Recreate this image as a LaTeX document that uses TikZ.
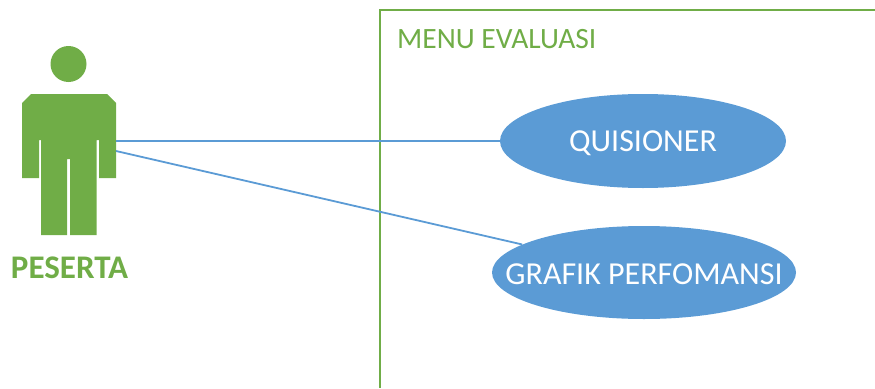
\documentclass[tikz,border=0pt]{standalone}
\usepackage{fontspec}
\setmainfont{Carlito}
\usetikzlibrary{shapes.geometric}
\definecolor{figgreen}{HTML}{70AD47}
\definecolor{caseblue}{HTML}{5B9BD5}
\tikzset{
  usecase/.style={ellipse, fill=caseblue, inner sep=0pt, label={[text=white, yshift=-2pt, font=\fontsize{32}{32}\selectfont]center:#1}},
  link/.style={draw=caseblue, line width=1.8pt}
}
\begin{document}
\begin{tikzpicture}[x=1pt,y=-1pt]
\useasboundingbox (0,0) rectangle (875,388);

\draw[figgreen, line width=1.8pt] (875,10) -- (380,10) -- (380,388);
\node[figgreen, font=\fontsize{29.5}{29.5}\selectfont, anchor=west, inner sep=0pt] (menu) at (397,39) {MENU EVALUASI};

\fill[figgreen] (68.5,64) circle (18);
\fill[figgreen] (31,94) -- (107,94) -- (116,103) -- (116,178) -- (99,178) -- (99,140) -- (96.5,140)
  -- (96.5,235) -- (70,235) -- (70,159) -- (67,159) -- (67,235) -- (41,235) -- (41,140) -- (39,140)
  -- (39,178) -- (22,178) -- (22,103) -- cycle;
\coordinate (peserta1) at (116,141);
\coordinate (peserta2) at (116,151);
\node[figgreen, font=\fontsize{33}{33}\selectfont\bfseries] (peserta) at (69.5,268) {PESERTA};

\node[usecase=QUISIONER, minimum width=286pt, minimum height=94pt] (quisioner) at (643,141) {};
\node[usecase=GRAFIK PERFOMANSI, minimum width=304pt, minimum height=93pt] (grafik) at (644,272.5) {};

\draw[link] (peserta1) -- (quisioner);
\draw[link] (peserta2) -- (grafik);

\end{tikzpicture}
\end{document}
